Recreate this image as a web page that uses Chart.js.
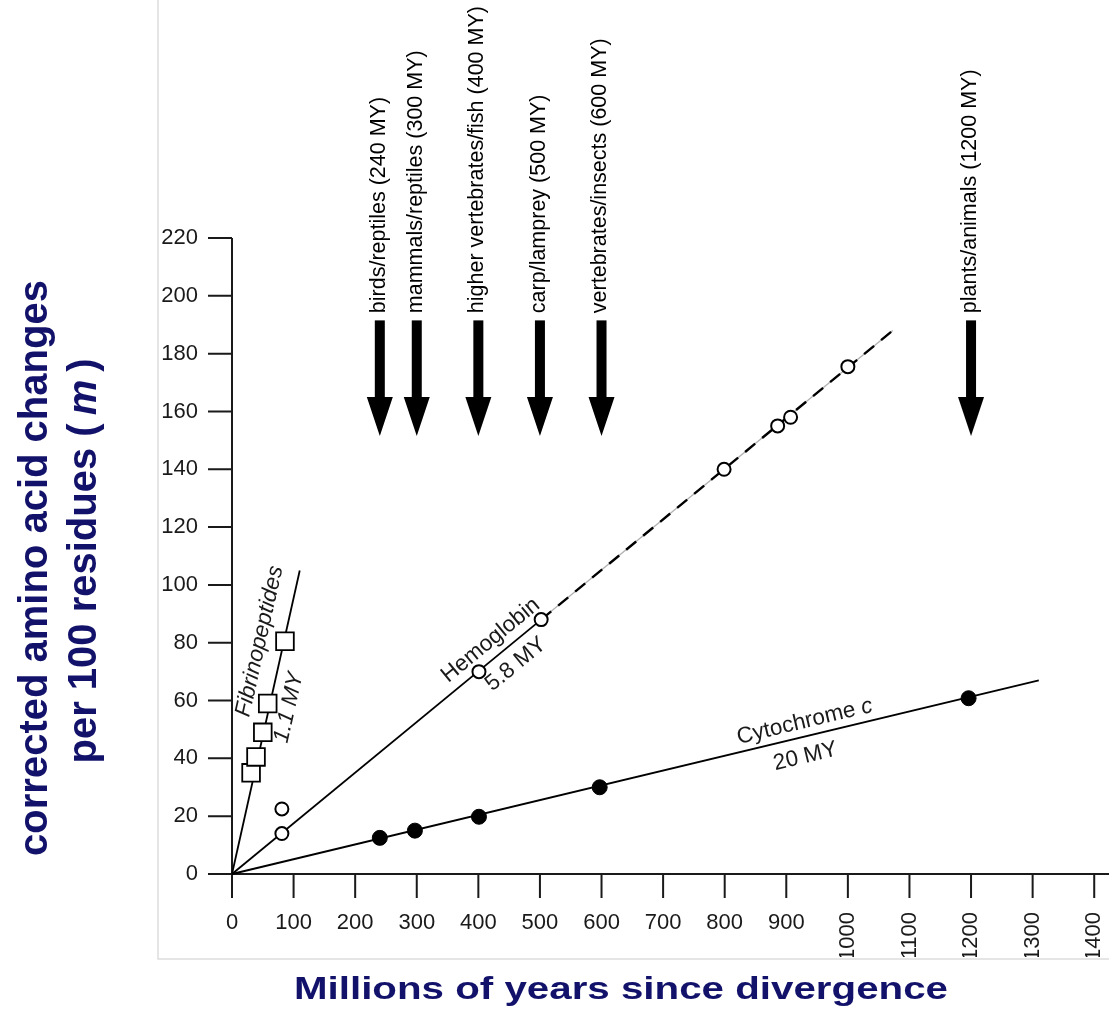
<!DOCTYPE html>
<html>
<head>
<meta charset="utf-8">
<script src="https://cdn.jsdelivr.net/npm/chart.js@4.4.1/dist/chart.umd.min.js"></script>
<style>
  html, body { margin: 0; padding: 0; background: #fff; }
  #wrap { width: 1109px; height: 1016px; position: relative; }
</style>
</head>
<body>
<div id="wrap"><canvas id="myChart"></canvas></div>
<script>
// axis ticks
const xTicks = [0, 100, 200, 300, 400, 500, 600, 700, 800, 900, 1000, 1100, 1200, 1300, 1400];
const yTicks = [0, 20, 40, 60, 80, 100, 120, 140, 160, 180, 200, 220];

// measured points (millions of years, corrected changes per 100 residues)
const fibX = [31, 39, 50, 58, 86];
const fibY = [35, 40.5, 49, 59, 80.5];
const hemX = [81, 81, 401, 502, 799, 886, 907, 1000];
const hemY = [14, 22.5, 70, 88, 140, 155, 158, 175.5];
const cytX = [240, 297, 401, 597, 1196];
const cytY = [12.5, 15, 19.8, 30, 60.8];

// fitted lines (end points)
const fibFit = [[0, 0], [110, 105]];
const hemFitSolid = [[0, 0], [502, 88]];
const hemFitDashed = [[502, 88], [1073, 188]];
const cytFit = [[0, 0], [1310, 67]];

// divergence arrows
const arrowX = [240, 300, 400, 500, 600, 1200];
const arrowLabels = ["birds/reptiles (240 MY)", "mammals/reptiles (300 MY)", "higher vertebrates/fish (400 MY)",
                     "carp/lamprey (500 MY)", "vertebrates/insects (600 MY)", "plants/animals (1200 MY)"];
const arrowTop = 191.5, arrowNeck = 165, arrowTip = 151.5, arrowLabelBase = 194;

// line labels: text parts [text, italic], anchor in data units, line they follow
const lineLabelParts = [
  [["Fibrinopeptides", true]],
  [["1.1 MY", true]],
  [["Hemoglobin", false]],
  [["5.8 MY", false]],
  [["Cytochrome ", false], ["c", true]],
  [["20 MY", false]]
];
const lineLabelX = [45, 92.5, 420, 461, 930, 931];
const lineLabelY = [80.5, 57.6, 80.8, 72.5, 52.7, 40.6];
const lineLabelFit = [fibFit, fibFit, hemFitSolid, hemFitSolid, cytFit, cytFit];

const toPts = (xs, ys) => xs.map((v, i) => ({ x: v, y: ys[i] }));
const toLine = pts => pts.map(p => ({ x: p[0], y: p[1] }));

const family = 'Arial, "Liberation Sans", sans-serif';
function drawParts(ctx, parts, size, weight) {
  let total = 0;
  const widths = parts.map(p => {
    ctx.font = (p[1] ? 'italic ' : '') + weight + ' ' + size + 'px ' + family;
    const w = ctx.measureText(p[0]).width;
    total += w;
    return w;
  });
  let cx = -total / 2;
  ctx.textAlign = 'left';
  parts.forEach((p, i) => {
    ctx.font = (p[1] ? 'italic ' : '') + weight + ' ' + size + 'px ' + family;
    ctx.fillText(p[0], cx, 0);
    cx += widths[i];
  });
}

const ink = '#1a1a1a';
const navy = '#12126b';

const axesPlugin = {
  id: 'axes',
  beforeDatasetsDraw(chart) {
    const { ctx, scales: { x, y } } = chart;
    const x0 = x.getPixelForValue(0), y0 = y.getPixelForValue(0);
    const tick = 24;
    ctx.save();
    // light frame
    ctx.strokeStyle = '#dddddd';
    ctx.lineWidth = 1.5;
    ctx.beginPath();
    ctx.moveTo(158, 0); ctx.lineTo(158, 959); ctx.lineTo(chart.width, 959);
    ctx.stroke();

    ctx.strokeStyle = ink;
    ctx.lineWidth = 2;
    ctx.beginPath();
    ctx.moveTo(x0, y.getPixelForValue(yTicks[yTicks.length - 1]));
    ctx.lineTo(x0, y0 + tick);
    ctx.moveTo(x0 - tick, y0);
    ctx.lineTo(chart.width, y0);
    yTicks.forEach(v => { const py = y.getPixelForValue(v); ctx.moveTo(x0 - tick, py); ctx.lineTo(x0, py); });
    xTicks.forEach(v => { const px = x.getPixelForValue(v); ctx.moveTo(px, y0); ctx.lineTo(px, y0 + tick); });
    ctx.stroke();

    ctx.fillStyle = ink;
    ctx.font = '22px ' + family;
    ctx.textAlign = 'right';
    ctx.textBaseline = 'middle';
    yTicks.forEach(v => ctx.fillText(String(v), x0 - tick - 10, y.getPixelForValue(v)));

    ctx.save();
    ctx.beginPath();
    ctx.rect(158, 0, chart.width - 158, 957);
    ctx.clip();
    xTicks.forEach(v => {
      const px = x.getPixelForValue(v);
      const s = String(v);
      if (s.length > 3) {
        ctx.save();
        ctx.translate(px, y0 + 38);
        ctx.rotate(-Math.PI / 2);
        ctx.textAlign = 'right';
        ctx.fillText(s, 0, 0);
        ctx.restore();
      } else {
        ctx.textAlign = 'center';
        ctx.fillText(s, px, y0 + 49);
      }
    });
    ctx.restore();
    ctx.restore();
  },
  afterDatasetsDraw(chart) {
    const { ctx, scales: { x, y } } = chart;
    ctx.save();
    ctx.fillStyle = '#000';
    ctx.textBaseline = 'middle';
    // arrows
    arrowX.forEach((v, i) => {
      const px = x.getPixelForValue(v);
      const top = y.getPixelForValue(arrowTop);
      const neck = y.getPixelForValue(arrowNeck);
      const tip = y.getPixelForValue(arrowTip);
      ctx.fillRect(px - 5, top, 10, neck - top + 1);
      ctx.beginPath();
      ctx.moveTo(px - 13, neck);
      ctx.lineTo(px + 13, neck);
      ctx.lineTo(px, tip);
      ctx.closePath();
      ctx.fill();
      ctx.save();
      ctx.translate(px - 1, y.getPixelForValue(arrowLabelBase));
      ctx.rotate(-Math.PI / 2);
      ctx.font = '21.5px ' + family;
      ctx.textAlign = 'left';
      ctx.fillText(arrowLabels[i], 0, 0);
      ctx.restore();
    });
    // labels along the fitted lines
    ctx.fillStyle = ink;
    lineLabelParts.forEach((parts, i) => {
      const f = lineLabelFit[i];
      const ang = Math.atan2(y.getPixelForValue(f[1][1]) - y.getPixelForValue(f[0][1]),
                             x.getPixelForValue(f[1][0]) - x.getPixelForValue(f[0][0]));
      ctx.save();
      ctx.translate(x.getPixelForValue(lineLabelX[i]), y.getPixelForValue(lineLabelY[i]));
      ctx.rotate(ang);
      drawParts(ctx, parts, 22.5, 'normal');
      ctx.restore();
    });
    // axis titles
    ctx.fillStyle = navy;
    ctx.textBaseline = 'alphabetic';
    ctx.save();
    ctx.translate(47, 568);
    ctx.rotate(-Math.PI / 2);
    drawParts(ctx, [["corrected amino acid changes", false]], 40, 'bold');
    ctx.restore();
    ctx.save();
    ctx.translate(96, 561);
    ctx.rotate(-Math.PI / 2);
    drawParts(ctx, [["per 100 residues (\u2009", false], ["m", true], ["\u2009)", false]], 40, 'bold');
    ctx.restore();
    ctx.save();
    ctx.translate(621, 999);
    ctx.scale(1.3, 1);
    drawParts(ctx, [["Millions of years since divergence", false]], 31, 'bold');
    ctx.restore();
    ctx.restore();
  }
};

new Chart(document.getElementById('myChart'), {
  type: 'scatter',
  data: {
    datasets: [
      { label: 'Fibrinopeptides', data: toPts(fibX, fibY), pointStyle: 'rect', pointRadius: 12.5,
        backgroundColor: '#fff', borderColor: '#000', borderWidth: 1.8, order: 1 },
      { label: 'Hemoglobin', data: toPts(hemX, hemY), pointStyle: 'circle', pointRadius: 6.5,
        backgroundColor: '#fff', borderColor: '#000', borderWidth: 2, order: 1 },
      { label: 'Cytochrome c', data: toPts(cytX, cytY), pointStyle: 'circle', pointRadius: 7.5,
        backgroundColor: '#000', borderColor: '#000', borderWidth: 1, order: 1 },
      { data: toLine(fibFit), showLine: true, pointRadius: 0, borderColor: '#000', borderWidth: 1.8, order: 2 },
      { data: toLine(hemFitSolid), showLine: true, pointRadius: 0, borderColor: '#000', borderWidth: 1.8, order: 2 },
      { data: toLine(hemFitDashed), showLine: true, pointRadius: 0, borderColor: '#000', borderWidth: 2.4,
        borderDash: [13, 9], order: 2 },
      { data: toLine(hemFitDashed), showLine: true, pointRadius: 0, borderColor: '#b0b0b0', borderWidth: 1.3, order: 3 },
      { data: toLine(cytFit), showLine: true, pointRadius: 0, borderColor: '#000', borderWidth: 1.8, order: 2 }
    ]
  },
  options: {
    responsive: true,
    maintainAspectRatio: false,
    animation: false,
    clip: false,
    layout: { autoPadding: false, padding: { left: 232, right: 0, top: 238, bottom: 142 } },
    scales: {
      x: { type: 'linear', min: 0, max: 1424, display: false },
      y: { type: 'linear', min: 0, max: 220, display: false }
    },
    plugins: { legend: { display: false }, tooltip: { enabled: false } }
  },
  plugins: [axesPlugin]
});
</script>
</body>
</html>
